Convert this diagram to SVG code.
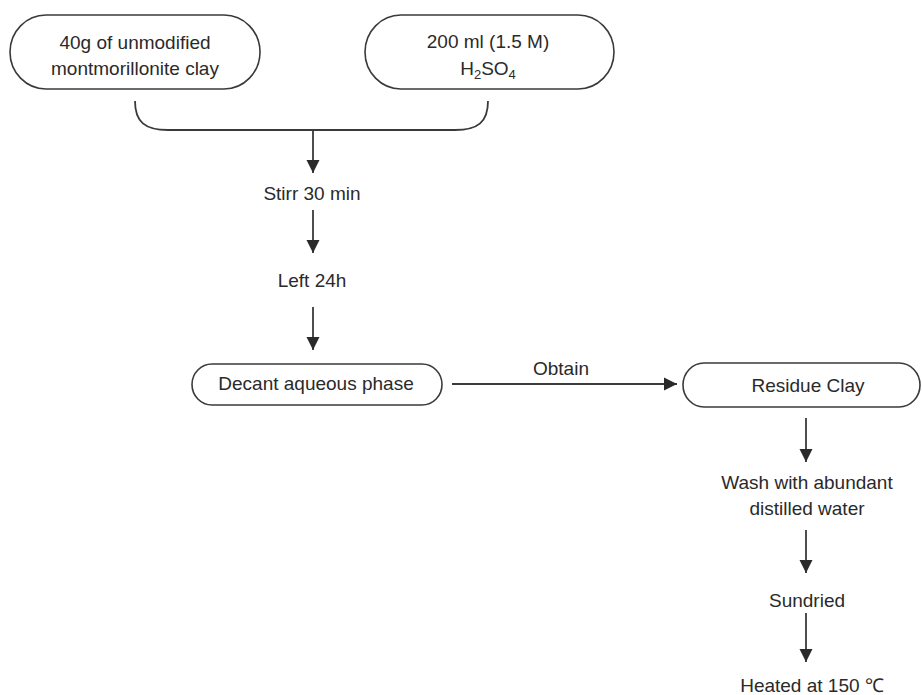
<svg xmlns="http://www.w3.org/2000/svg" width="922" height="695" viewBox="0 0 922 695">
<style>
.box{fill:#fff;stroke:#3a3a3a;stroke-width:1.6}
.lbl{font-family:"Liberation Sans",Arial,sans-serif;font-size:19px;fill:#2a2a2a;text-anchor:middle}
.con{fill:none;stroke:#3a3a3a;stroke-width:1.8}
</style>
<defs>
<marker id="ah" markerUnits="userSpaceOnUse" markerWidth="14" markerHeight="14" viewBox="0 0 14 14" refX="13" refY="7" orient="auto">
<path d="M0,0.5 L13,7 L0,13.5 Z" fill="#2a2a2a"/>
</marker>
</defs>
<rect width="922" height="695" fill="#fff"/>
<g id="node-clay">
<rect class="box" x="10" y="15" width="250" height="74" rx="36" ry="37"/>
<text class="lbl" x="135" y="49">40g of unmodified</text>
<text class="lbl" x="135" y="75">montmorillonite clay</text>
</g>
<g id="node-acid">
<rect class="box" x="365" y="15" width="249" height="74" rx="36" ry="37"/>
<text class="lbl" x="488" y="48">200 ml (1.5 M)</text>
<text class="lbl" x="488" y="75">H<tspan font-size="13" dy="4">2</tspan><tspan dy="-4">SO</tspan><tspan font-size="13" dy="4">4</tspan></text>
</g>
<g id="node-stirr">
<text class="lbl" x="312" y="200">Stirr 30 min</text>
</g>
<g id="node-left">
<text class="lbl" x="312" y="287">Left 24h</text>
</g>
<g id="node-decant">
<rect class="box" x="192" y="364" width="250" height="41" rx="20" ry="20.5"/>
<text class="lbl" x="316" y="390">Decant aqueous phase</text>
</g>
<g id="node-residue">
<rect class="box" x="683" y="363" width="237" height="44" rx="21" ry="22"/>
<text class="lbl" x="808" y="392">Residue Clay</text>
</g>
<g id="node-wash">
<text class="lbl" x="807" y="489">Wash with abundant</text>
<text class="lbl" x="807" y="515">distilled water</text>
</g>
<g id="node-sundried">
<text class="lbl" x="807" y="607">Sundried</text>
</g>
<g id="node-heated">
<text class="lbl" x="812" y="692">Heated at 150 ℃</text>
</g>
<g id="connectors">
<path class="con" d="M135,101 C135,122 145,130 168,130 L455,130 C478,130 488,122 488,101"/>
<line class="con" x1="313" y1="130" x2="313" y2="173" marker-end="url(#ah)"/>
<line class="con" x1="313" y1="210" x2="313" y2="253" marker-end="url(#ah)"/>
<line class="con" x1="313" y1="307" x2="313" y2="350" marker-end="url(#ah)"/>
<line class="con" x1="452" y1="384" x2="677" y2="384" marker-end="url(#ah)"/>
<text class="lbl" x="561" y="375">Obtain</text>
<line class="con" x1="806" y1="418" x2="806" y2="462" marker-end="url(#ah)"/>
<line class="con" x1="806" y1="530" x2="806" y2="573" marker-end="url(#ah)"/>
<line class="con" x1="806" y1="613" x2="806" y2="662" marker-end="url(#ah)"/>
</g>
</svg>
